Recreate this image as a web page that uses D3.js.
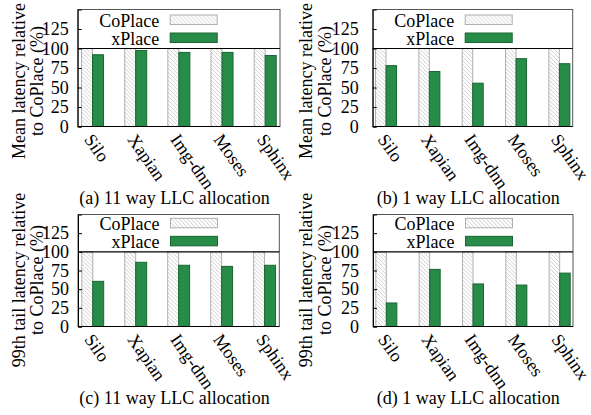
<!DOCTYPE html>
<html>
<head>
    <meta charset="utf-8">
    <title>xPlace vs CoPlace latency</title>
    <script src="https://d3js.org/d3.v7.min.js"></script>
    <style type="text/css">
        body { margin: 0; background: #fff; }
        text { font-family: "Liberation Serif", "Times New Roman", serif; font-size: 18px; fill: #000; }
    </style>
</head>
<body>
    <script type="text/javascript">
        // data (percent of CoPlace)
        let benchmarks = ["Silo", "Xapian", "Img-dnn", "Moses", "Sphinx"];
        let series = ["CoPlace", "xPlace"];
        let coplace = [100, 100, 100, 100, 100];
        let meanWay11 = [92, 97.5, 95, 95, 91];
        let meanWay1 = [78, 70.5, 55.5, 87, 80.5];
        let tailWay11 = [60.5, 86, 82, 80.5, 82];
        let tailWay1 = [31.5, 76.5, 57, 55.5, 71.5];
        let yTicks = [0, 25, 50, 75, 100, 125];
        let captions = ["(a) 11 way LLC allocation", "(b) 1 way LLC allocation",
                        "(c) 11 way LLC allocation", "(d) 1 way LLC allocation"];
        let meanTitle = ["Mean latency relative", "to CoPlace (%)"];
        let tailTitle = ["99th tail latency relative", "to CoPlace (%)"];

        let svg = d3.select("body").append("svg")
            .attr("width", 591)
            .attr("height", 415);

        let defs = svg.append("defs");
        let pat = defs.append("pattern")
            .attr("id", "hatch")
            .attr("patternUnits", "userSpaceOnUse")
            .attr("width", 4).attr("height", 4);
        pat.append("rect").attr("width", 4).attr("height", 4).attr("fill", "#fff");
        pat.append("path")
            .attr("d", "M0,0 L4,4 M-1,3 L1,5 M3,-1 L5,1")
            .attr("stroke", "#c8c8c8").attr("stroke-width", 0.9);

        let fills = { CoPlace: "url(#hatch)", xPlace: "#268c47" };
        let strokes = { CoPlace: "#b0b0b0", xPlace: "#1a6532" };

        // layout of the four sub plots
        let panels = [
            { left: 77.7, right: 280, top: 9.5, bottom: 126.5, pi: 0.49, po: 0.088,
              vals: meanWay11, title: meanTitle, tx: [25, 43], ty: 81, lblGap: 5,
              cap: captions[0], cx: 174.5, cy: 203.5 },
            { left: 372.7, right: 572.7, top: 9.5, bottom: 126.5, pi: 0.515, po: 0.065,
              vals: meanWay1, title: meanTitle, tx: [312, 331], ty: 81, lblGap: 10,
              cap: captions[1], cx: 468.3, cy: 203.5 },
            { left: 78, right: 279.3, top: 214.5, bottom: 326.5, pi: 0.49, po: 0.088,
              vals: tailWay11, title: tailTitle, tx: [25, 43], ty: 280, lblGap: 5,
              cap: captions[2], cx: 174.5, cy: 404 },
            { left: 373, right: 573, top: 214.5, bottom: 326.5, pi: 0.515, po: 0.065,
              vals: tailWay1, title: tailTitle, tx: [312, 331], ty: 280, lblGap: 10,
              cap: captions[3], cx: 468.3, cy: 404 }
        ];

        function draw(p) {
            let x = d3.scaleBand()
                .domain(benchmarks)
                .range([p.left, p.right])
                .paddingInner(p.pi)
                .paddingOuter(p.po);
            let xs = d3.scaleBand()
                .domain(series)
                .range([0, x.bandwidth()]);
            let y = d3.scaleLinear()
                .domain([0, 150])
                .range([p.bottom, p.top]);

            let rows = benchmarks.map((b, i) => ({ name: b, CoPlace: coplace[i], xPlace: p.vals[i] }));

            let g = svg.append("g");

            // frame
            g.append("rect")
                .attr("x", p.left).attr("y", p.top)
                .attr("width", p.right - p.left).attr("height", p.bottom - p.top)
                .attr("fill", "none").attr("stroke", "#555").attr("stroke-width", 1);

            // bars
            let grp = g.selectAll("g.grp")
                .data(rows)
                .join("g")
                .attr("class", "grp")
                .attr("transform", d => "translate(" + x(d.name) + ",0)");
            grp.selectAll("rect")
                .data(d => series.map(s => ({ s: s, v: d[s] })))
                .join("rect")
                .attr("x", d => xs(d.s))
                .attr("y", d => y(d.v))
                .attr("width", xs.bandwidth())
                .attr("height", d => y(0) - y(d.v))
                .attr("fill", d => fills[d.s])
                .attr("stroke", d => strokes[d.s])
                .attr("stroke-width", 1);

            // line at 100%
            g.append("line")
                .attr("x1", p.left).attr("x2", p.right)
                .attr("y1", y(100)).attr("y2", y(100))
                .attr("stroke", "#000").attr("stroke-width", 1.2);

            // y axis
            let ya = g.append("g")
                .attr("transform", "translate(" + p.left + ",0)")
                .call(d3.axisLeft(y).tickValues(yTicks).tickSize(-4).tickPadding(p.lblGap + 4));
            ya.attr("font-size", null).attr("font-family", null);
            ya.select(".domain").attr("stroke", "#000");
            ya.selectAll(".tick line").attr("stroke", "#000");
            ya.selectAll(".tick text").attr("fill", "#000");

            // x axis line
            g.append("line")
                .attr("x1", p.left).attr("x2", p.right)
                .attr("y1", p.bottom).attr("y2", p.bottom)
                .attr("stroke", "#000");

            // rotated category labels
            g.selectAll("text.cat")
                .data(benchmarks)
                .join("text")
                .attr("class", "cat")
                .attr("transform", d => "translate(" + (x(d) + x.bandwidth() / 2 - 9) + "," + (p.bottom + 13) + ") rotate(55)")
                .text(d => d);

            // legend
            let lg = g.selectAll("g.leg")
                .data(series)
                .join("g")
                .attr("class", "leg")
                .attr("transform", (d, i) => "translate(" + p.left + "," + (y(100) - 4 - (1 - i) * 18) + ")");
            lg.append("text")
                .attr("x", 81.5)
                .attr("text-anchor", "end")
                .text(d => d);
            lg.append("rect")
                .attr("x", 92.5).attr("y", -11.5)
                .attr("width", 47).attr("height", 9.5)
                .attr("fill", d => fills[d])
                .attr("stroke", d => strokes[d]);

            // y title
            p.title.forEach((t, i) => {
                g.append("text")
                    .attr("transform", "translate(" + p.tx[i] + "," + p.ty + ") rotate(-90)")
                    .attr("text-anchor", "middle")
                    .text(t);
            });

            // caption
            g.append("text")
                .attr("x", p.cx).attr("y", p.cy)
                .attr("text-anchor", "middle")
                .text(p.cap);
        }

        panels.forEach(draw);
    </script>
</body>
</html>
